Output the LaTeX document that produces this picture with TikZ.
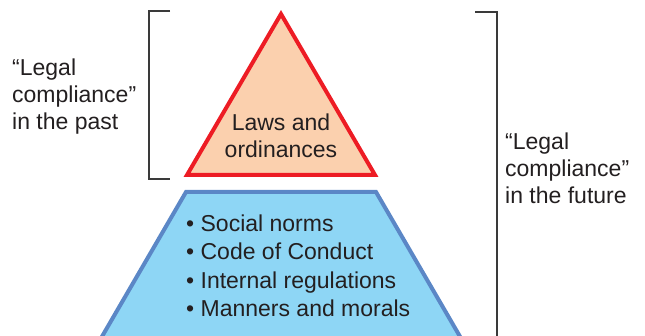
\documentclass[tikz,border=0pt]{standalone}
\usepackage{fontspec}
\setmainfont{Liberation Sans}
\usetikzlibrary{positioning}
\definecolor{lawred}{HTML}{ED1C24}
\definecolor{lawfill}{HTML}{FBD0AE}
\definecolor{normblue}{HTML}{5B87C6}
\definecolor{normfill}{HTML}{8ED6F5}
\definecolor{txt}{HTML}{231F20}
\definecolor{brk}{HTML}{3A3A3A}

\begin{document}
\begin{tikzpicture}[x=1pt,y=-1pt,
  labeltext/.style={font=\fontsize{23}{27}\selectfont, text=txt, inner sep=0pt},
  bracket/.style={draw=brk, line width=1.3pt}]
\useasboundingbox (0,0) rectangle (645,336);

% lower layer, runs off the bottom edge
\begin{scope}
\clip (0,0) rectangle (645,336);
\draw[fill=normfill, draw=normblue, line width=4pt] (100,340) -- (186,192) -- (376,192) -- (462,340);
\end{scope}

% upper layer
\draw[fill=lawfill, draw=lawred, line width=4pt] (281,14) -- (187,175) -- (375,175) -- cycle;

% brackets
\draw[bracket] (170,11) -- (149,11) -- (149,179) -- (170,179);
\draw[bracket] (475,12) -- (497,12) -- (497,340);

% texts (base = last line)
\node[labeltext, align=center, anchor=base] (laws) at (281,158) {Laws and\\ordinances};
\node[labeltext, align=left, anchor=base west] (past) at (12,130) {“Legal\\compliance”\\in the past};
\node[labeltext, align=left, anchor=base west] (future) at (505,204) {“Legal\\compliance”\\in the future};
\node[labeltext, font=\fontsize{23}{28.5}\selectfont, align=left, anchor=base west] (norms) at (186,317)
  {• Social norms\\• Code of Conduct\\• Internal regulations\\• Manners and morals};
\end{tikzpicture}
\end{document}
